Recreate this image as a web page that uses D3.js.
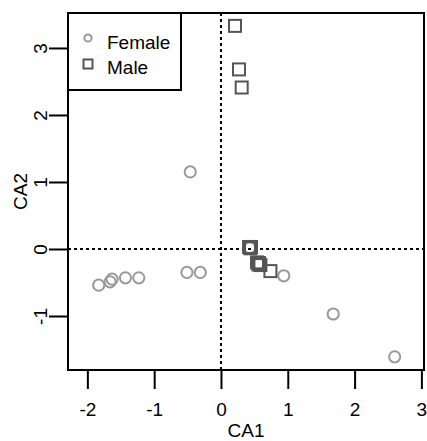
<!DOCTYPE html>
<html>
<head>
<meta charset="utf-8">
<script src="https://cdn.jsdelivr.net/npm/d3@7"></script>
<style>
  html, body { margin: 0; padding: 0; background: #fff; }
  svg { display: block; }
  text { font-family: "Liberation Sans", Arial, Helvetica, sans-serif; fill: #000; }
</style>
</head>
<body>
<svg id="chart" width="427" height="441"></svg>
<script>
// Correspondence analysis map: row scores by sex on the first two axes
const femaleCA1 = [-0.46, -1.83, -1.66, -1.63, -1.43, -1.23, -0.51, -0.31, 0.43, 0.56, 0.94, 1.68, 2.60];
const femaleCA2 = [ 1.15, -0.54, -0.49, -0.45, -0.43, -0.43, -0.35, -0.35, 0.02, -0.22, -0.40, -0.97, -1.61];
const maleCA1 = [0.21, 0.27, 0.31, 0.42, 0.44, 0.45, 0.54, 0.56, 0.57, 0.59, 0.74];
const maleCA2 = [3.33, 2.68, 2.41, 0.03, 0.01, 0.03, -0.20, -0.23, -0.21, -0.24, -0.33];
const xTicks = [-2, -1, 0, 1, 2, 3];
const yTicks = [-1, 0, 1, 2, 3];
const legendLabels = ["Female", "Male"];

const svg = d3.select("#chart");
const plot = { left: 68, right: 424, top: 13, bottom: 370 };
const fontSize = 19;

const x = d3.scaleLinear().domain([-2.29, 3.039]).range([plot.left, plot.right]);
const y = d3.scaleLinear().domain([-1.806, 3.522]).range([plot.bottom, plot.top]);

const femaleColor = "#999999";
const maleColor = "#555555";

// Reference lines through the origin
svg.append("line")
  .attr("x1", x(0)).attr("x2", x(0))
  .attr("y1", plot.top).attr("y2", plot.bottom)
  .attr("stroke", "#000").attr("stroke-width", 2).attr("stroke-dasharray", "3,3");
svg.append("line")
  .attr("x1", plot.left).attr("x2", plot.right)
  .attr("y1", y(0)).attr("y2", y(0))
  .attr("stroke", "#000").attr("stroke-width", 2).attr("stroke-dasharray", "3,3");

// Axes
const xAxis = d3.axisBottom(x).tickValues(xTicks).tickSize(19).tickPadding(14)
  .tickFormat(d3.format("d"));
const gx = svg.append("g").attr("transform", `translate(0,${plot.bottom})`).call(xAxis);
gx.select(".domain").remove();
gx.selectAll(".tick line").attr("stroke", "#000").attr("stroke-width", 2);
gx.selectAll(".tick text").attr("font-size", fontSize).attr("font-family", null)
  .text(d => d < 0 ? "-" + Math.abs(d) : d);

const yAxis = d3.axisLeft(y).tickValues(yTicks).tickSize(19).tickPadding(0)
  .tickFormat(d3.format("d"));
const gy = svg.append("g").attr("transform", `translate(${plot.left},0)`).call(yAxis);
gy.select(".domain").remove();
gy.selectAll(".tick line").attr("stroke", "#000").attr("stroke-width", 2);
gy.selectAll(".tick text")
  .attr("font-size", fontSize).attr("font-family", null)
  .attr("x", null).attr("dy", null)
  .attr("text-anchor", "middle")
  .attr("transform", "translate(-21,0) rotate(-90)")
  .text(d => d < 0 ? "-" + Math.abs(d) : d);

// Axis titles
svg.append("text")
  .attr("x", (plot.left + plot.right) / 2).attr("y", 437)
  .attr("text-anchor", "middle").attr("font-size", fontSize)
  .text("CA1");
svg.append("text")
  .attr("transform", `translate(27,${(plot.top + plot.bottom) / 2}) rotate(-90)`)
  .attr("text-anchor", "middle").attr("font-size", fontSize)
  .text("CA2");

// Female points (open circles)
svg.append("g").selectAll("circle")
  .data(d3.range(femaleCA1.length))
  .join("circle")
  .attr("cx", i => x(femaleCA1[i]))
  .attr("cy", i => y(femaleCA2[i]))
  .attr("r", 5.6)
  .attr("fill", "none")
  .attr("stroke", femaleColor)
  .attr("stroke-width", 2);

// Male points (open squares)
const sq = 12;
svg.append("g").selectAll("rect")
  .data(d3.range(maleCA1.length))
  .join("rect")
  .attr("x", i => x(maleCA1[i]) - sq / 2)
  .attr("y", i => y(maleCA2[i]) - sq / 2)
  .attr("width", sq).attr("height", sq)
  .attr("fill", "none")
  .attr("stroke", maleColor)
  .attr("stroke-width", 2);

// Plot frame
svg.append("rect")
  .attr("x", plot.left).attr("y", plot.top)
  .attr("width", plot.right - plot.left).attr("height", plot.bottom - plot.top)
  .attr("fill", "none").attr("stroke", "#000").attr("stroke-width", 2);

// Legend
const lg = svg.append("g");
lg.append("rect")
  .attr("x", plot.left).attr("y", plot.top)
  .attr("width", 113).attr("height", 77)
  .attr("fill", "#fff").attr("stroke", "#000").attr("stroke-width", 2);
lg.append("circle")
  .attr("cx", 88).attr("cy", 38).attr("r", 3.6)
  .attr("fill", "none").attr("stroke", femaleColor).attr("stroke-width", 2);
lg.append("rect")
  .attr("x", 88 - 4.5).attr("y", 64 - 4.5).attr("width", 9).attr("height", 9)
  .attr("fill", "none").attr("stroke", maleColor).attr("stroke-width", 2);
lg.selectAll("text.lbl")
  .data(legendLabels)
  .join("text")
  .attr("class", "lbl")
  .attr("x", 107)
  .attr("y", (d, i) => 49 + i * 25)
  .attr("font-size", fontSize)
  .text(d => d);
</script>
</body>
</html>
